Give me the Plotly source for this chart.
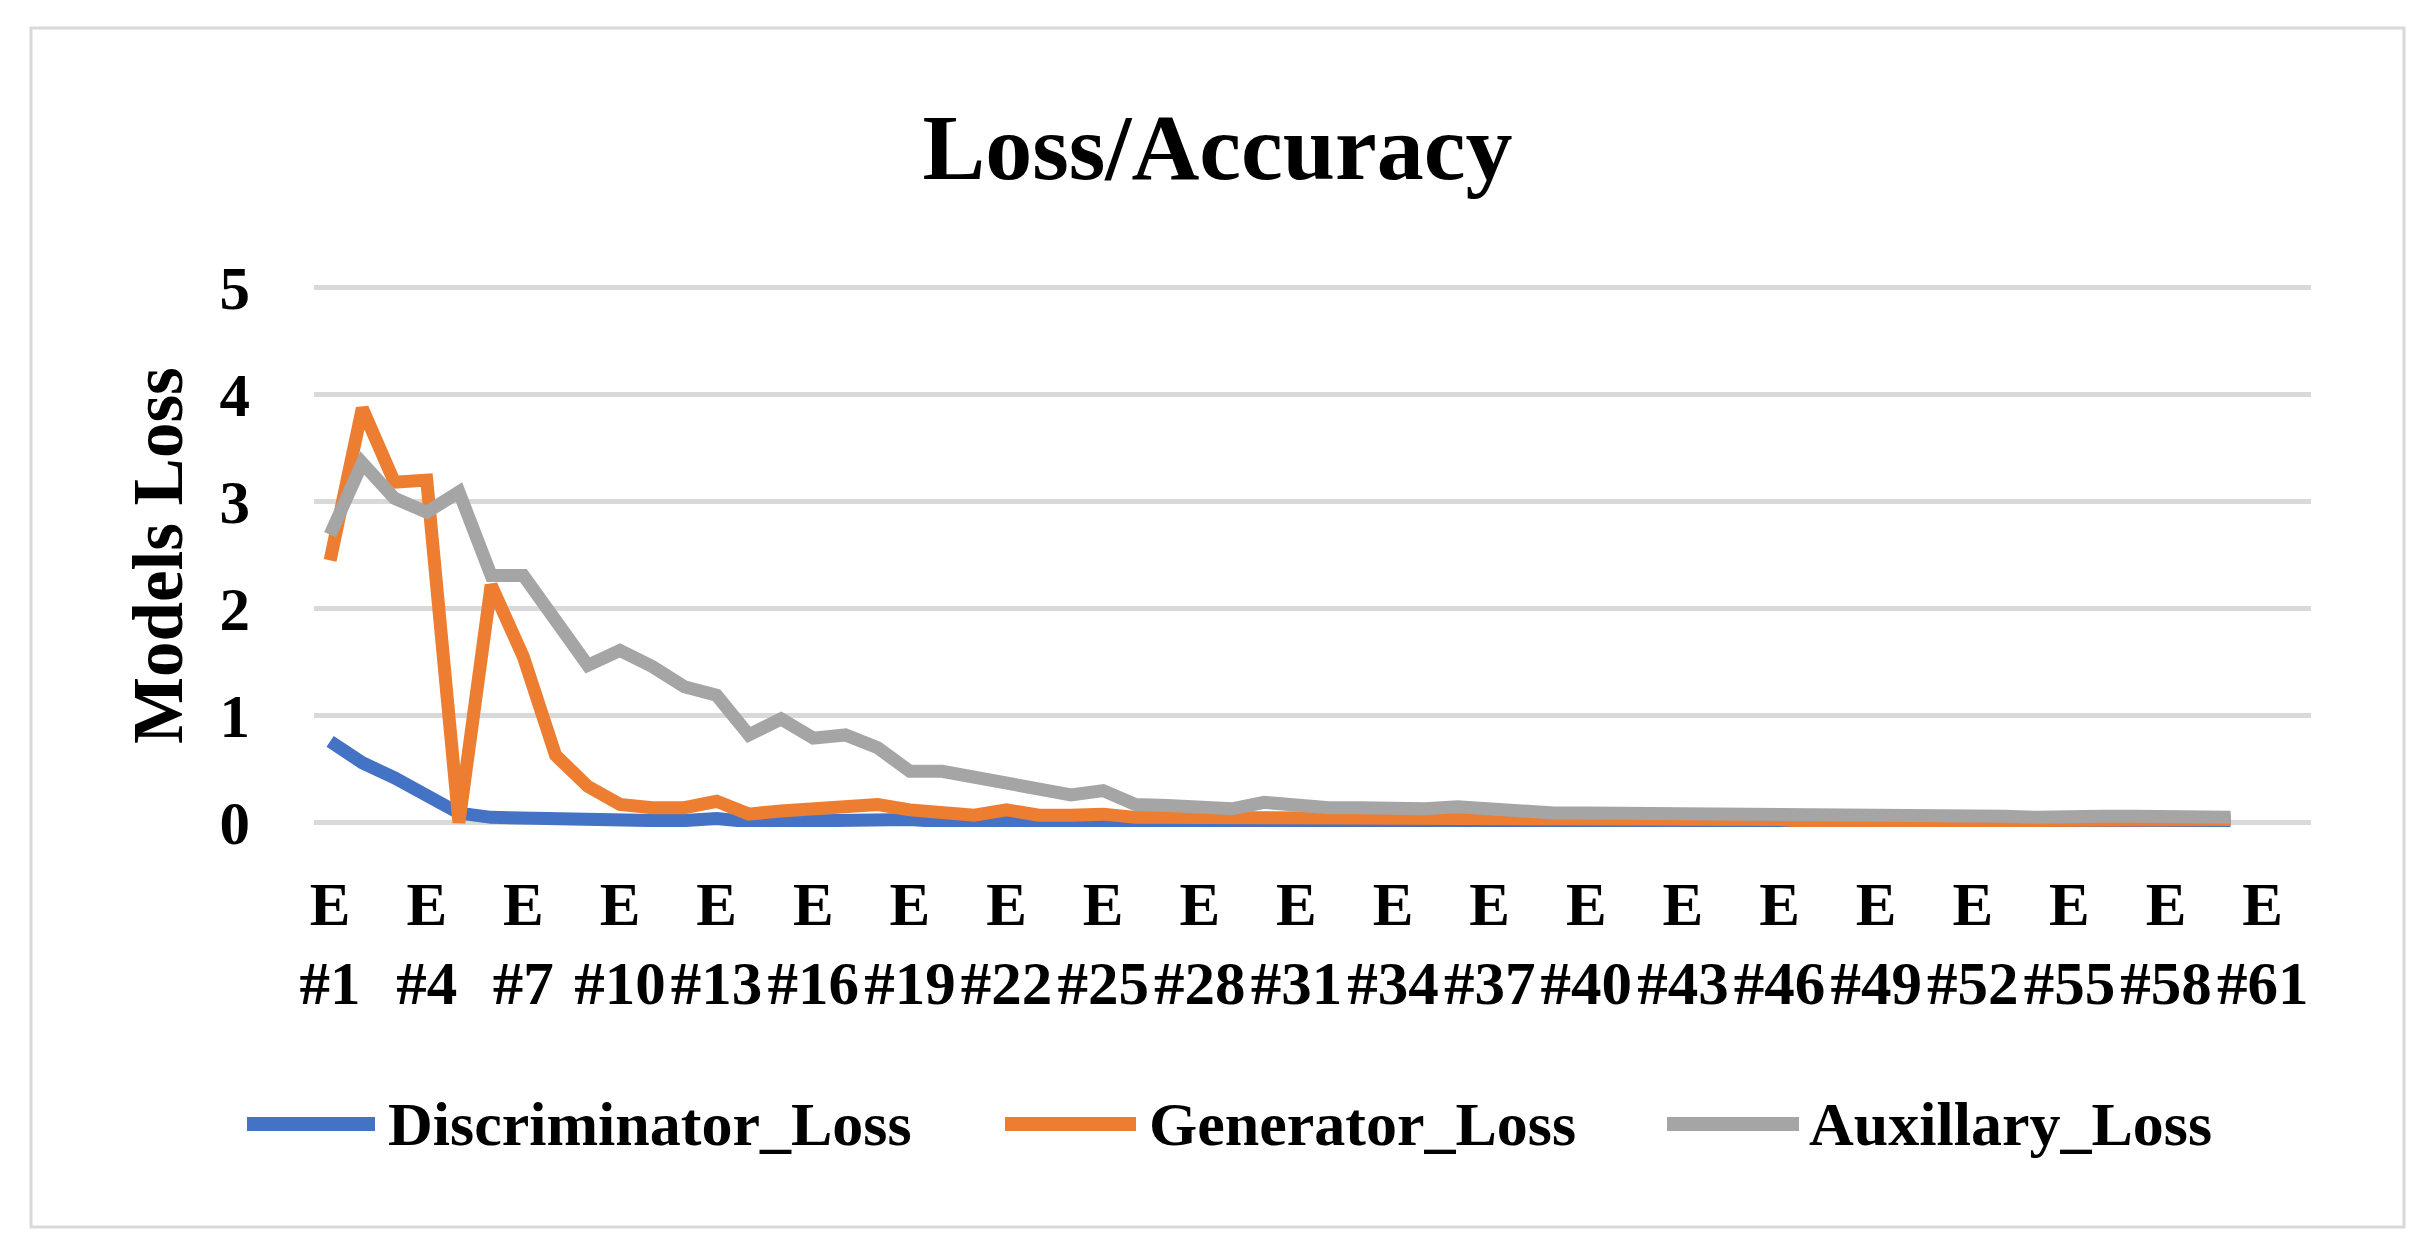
import plotly.graph_objects as go

# ---------------- data ----------------
epochs = list(range(1, 61))

discriminator_loss = [
    0.76, 0.56, 0.42, 0.25, 0.09, 0.05, 0.04, 0.03, 0.02, 0.02,
    0.02, 0.02, 0.04, 0.01, 0.02, 0.03, 0.04, 0.05, 0.03, 0.01,
    0.01, 0.03, 0.01, 0.01, 0.01, 0.01, 0.01, 0.01, 0.01, 0.01,
    0.01, 0.01, 0.01, 0.01, 0.01, 0.01, 0.01, 0.01, 0.01, 0.01,
    0.01, 0.01, 0.01, 0.01, 0.01, 0.01, 0.01, 0.01, 0.01, 0.01,
    0.01, 0.01, 0.01, 0.01, 0.01, 0.01, 0.01, 0.01, 0.01, 0.01,
]

generator_loss = [
    2.45, 3.87, 3.18, 3.20, 0.00, 2.22, 1.55, 0.63, 0.34, 0.17,
    0.14, 0.14, 0.20, 0.08, 0.11, 0.13, 0.16, 0.17, 0.12, 0.08,
    0.07, 0.12, 0.07, 0.07, 0.08, 0.05, 0.05, 0.04, 0.03, 0.04,
    0.04, 0.03, 0.03, 0.03, 0.03, 0.05, 0.03, 0.02, 0.02, 0.02,
    0.02, 0.02, 0.02, 0.02, 0.02, 0.03, 0.01, 0.01, 0.01, 0.01,
    0.01, 0.01, 0.01, 0.01, 0.01, 0.01, 0.01, 0.01, 0.01, 0.03,
]

auxillary_loss = [
    2.69, 3.36, 3.03, 2.90, 3.09, 2.31, 2.31, 1.89, 1.47, 1.61,
    1.46, 1.27, 1.19, 0.82, 0.97, 0.79, 0.82, 0.70, 0.48, 0.48,
    0.42, 0.39, 0.33, 0.26, 0.30, 0.17, 0.16, 0.15, 0.13, 0.19,
    0.15, 0.14, 0.14, 0.12, 0.13, 0.15, 0.12, 0.10, 0.09, 0.09,
    0.09, 0.09, 0.09, 0.07, 0.08, 0.08, 0.06, 0.06, 0.06, 0.06,
    0.06, 0.06, 0.06, 0.05, 0.04, 0.06, 0.06, 0.05, 0.04, 0.05,
]

series_names = ["Discriminator_Loss", "Generator_Loss", "Auxillary_Loss"]
series_values = [discriminator_loss, generator_loss, auxillary_loss]
series_colors = ["#4472C4", "#ED7D31", "#A5A5A5"]

tick_epochs = list(range(1, 62, 3))
tick_labels = [f"E<br>#{e}" for e in tick_epochs]
y_ticks = [0, 1, 2, 3, 4, 5]

title_text = "Loss/Accuracy"
y_title_text = "Models Loss"

# ---------------- layout geometry (pixels) ----------------
W, H = 2435, 1258
Y_MIN, Y_MAX = -0.04, 5.06
ZERO_PX, UNIT_PX = 823, 107.2
PL, PR = 314, 2311
PT = round(ZERO_PX - Y_MAX * UNIT_PX)
PB = round(ZERO_PX - Y_MIN * UNIT_PX)


def px_x(px):
    return (px - PL) / (PR - PL)


def px_y(py):
    return (PB - py) / (PB - PT)


FONT = "Liberation Serif"

fig = go.Figure()
for name, vals, col in zip(series_names, series_values, series_colors):
    fig.add_trace(go.Scatter(
        x=epochs, y=vals, name=name, mode="lines",
        line=dict(color=col, width=13, shape="linear"),
        showlegend=False,
    ))

fig.update_layout(
    width=W, height=H,
    paper_bgcolor="white", plot_bgcolor="white",
    margin=dict(l=PL, r=W - PR, t=PT, b=H - PB, pad=0),
    showlegend=False,
    title=dict(
        text=title_text, x=0.5, xref="container", xanchor="center",
        y=1 - 146 / H, yref="container", yanchor="middle",
        font=dict(family=FONT, size=94, color="#000000", weight="bold"),
    ),
    font=dict(family=FONT, color="#000000"),
)

fig.update_xaxes(
    range=[0.5, 62.5], tickmode="array", tickvals=tick_epochs, ticktext=tick_labels,
    showgrid=False, zeroline=False, showline=False, ticks="",
    tickangle=0, ticklabelstandoff=36,
    tickfont=dict(family=FONT, size=61, color="#000000", weight="bold"),
)
fig.update_yaxes(
    range=[Y_MIN, Y_MAX], tickmode="array", tickvals=y_ticks,
    showgrid=True, gridcolor="#D9D9D9", gridwidth=5,
    zeroline=False, showline=False, ticks="", ticklabelstandoff=63,
    tickfont=dict(family=FONT, size=61, color="#000000", weight="bold"),
)

# y-axis title
fig.add_annotation(
    text=y_title_text, textangle=-90, showarrow=False,
    xref="paper", yref="paper", x=px_x(158), y=px_y(556),
    xanchor="center", yanchor="middle",
    font=dict(family=FONT, size=71, color="#000000", weight="bold"),
)

# legend (drawn manually to mimic long Excel legend keys)
legend_line_x = [(247, 375), (1005, 1136), (1667, 1799)]
legend_text_x = [386, 1147, 1807]
legend_y = 1124
for name, col, (x0, x1), tx in zip(series_names, series_colors, legend_line_x, legend_text_x):
    fig.add_shape(
        type="line", xref="paper", yref="paper",
        x0=px_x(x0), x1=px_x(x1), y0=px_y(legend_y), y1=px_y(legend_y),
        line=dict(color=col, width=14),
    )
    fig.add_annotation(
        text=name, showarrow=False, xref="paper", yref="paper",
        x=px_x(tx), y=px_y(legend_y), xanchor="left", yanchor="middle",
        font=dict(family=FONT, size=62, color="#000000", weight="bold"),
    )

# chart border
fig.add_shape(
    type="rect", xref="paper", yref="paper",
    x0=px_x(31), x1=px_x(2404), y0=px_y(1227), y1=px_y(28),
    line=dict(color="#D9D9D9", width=3), fillcolor="rgba(0,0,0,0)", layer="below",
)

fig.write_html(
    "out.html",
    config={"displayModeBar": False},
    post_script="document.body.style.margin='0';document.body.style.overflow='hidden';",
)
